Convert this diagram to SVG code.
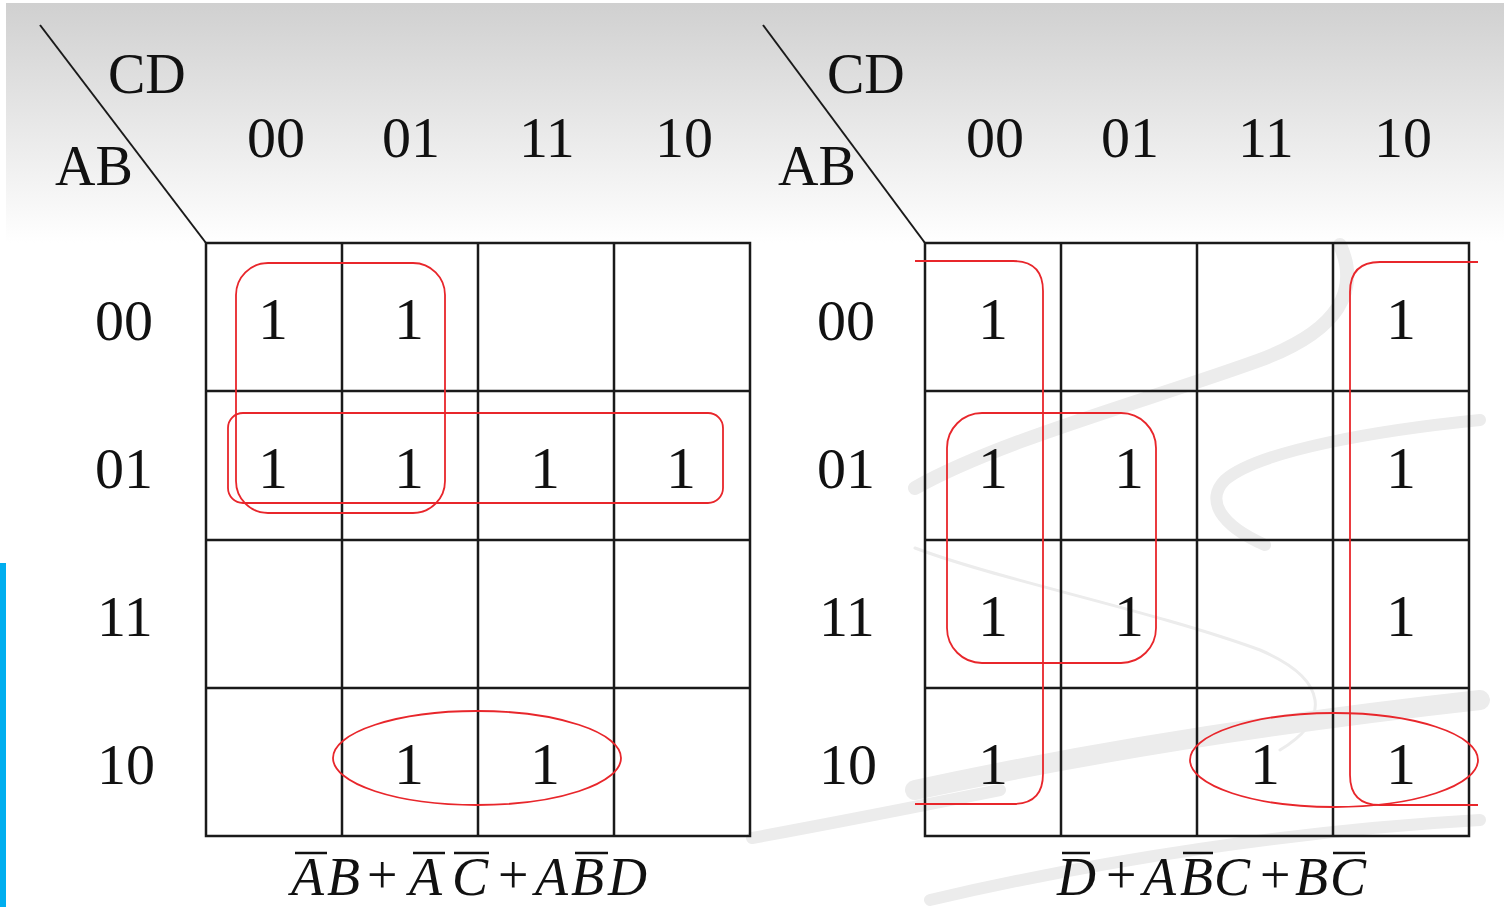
<svg xmlns="http://www.w3.org/2000/svg" width="1504" height="907" viewBox="0 0 1504 907">
<defs>
<linearGradient id="bg" x1="0" y1="0" x2="0" y2="1">
<stop offset="0" stop-color="#d0d0d0"/>
<stop offset="1" stop-color="#ffffff"/>
</linearGradient>
<style>
.t{font-family:"Liberation Serif","Times New Roman",serif;fill:#111;}
.lab{font-size:56px;}
.dig{font-size:58px;}
.one{font-size:60px;text-anchor:middle;}
.f{font-family:"Liberation Serif","Times New Roman",serif;font-style:italic;font-size:54px;fill:#111;}
.fp{font-family:"Liberation Serif","Times New Roman",serif;font-size:54px;fill:#111;}
.grid{fill:none;stroke:#1a1a1a;stroke-width:2.5;}
.diag{stroke:#1a1a1a;stroke-width:2;}
.loop{fill:none;stroke:#e8262b;stroke-width:1.8;}
.ov{stroke:#111;stroke-width:2.5;}
.sw{fill:none;stroke:#ececec;stroke-linecap:round;}
</style>
</defs>
<rect width="1504" height="907" fill="#ffffff"/>
<rect x="6" y="3" width="1498" height="240" fill="url(#bg)"/>
<rect x="0" y="563" width="6" height="344" fill="#00aeef"/>

<g id="swoosh">
<path class="sw" stroke-width="14" d="M915,488 C1000,440 1150,400 1260,360 C1340,330 1360,290 1340,245"/>
<path class="sw" stroke-width="12" d="M1480,420 C1380,430 1260,450 1225,480 C1205,500 1220,525 1265,545"/>
<path class="sw" stroke-width="3" d="M915,548 C1000,580 1150,610 1260,650 C1330,680 1330,720 1280,750"/>
<path class="sw" stroke-width="20" d="M915,790 C1100,750 1300,720 1480,700"/>
<path class="sw" stroke-width="12" d="M930,900 C1100,860 1300,830 1480,820"/>
<path class="sw" stroke-width="12" d="M752,838 C850,820 950,800 1000,790"/>
</g>

<g id="connectors">
<line class="diag" x1="40" y1="25" x2="206" y2="243"/>
<line class="diag" x1="763" y1="25" x2="925" y2="243"/>
</g>

<g id="kmap-left">
<rect class="grid" x="206" y="243" width="544" height="593"/>
<path class="grid" d="M342,243V836M478,243V836M614,243V836M206,391H750M206,540H750M206,688H750"/>
<text class="t lab" x="108" y="93">CD</text>
<text class="t lab" x="55" y="185">AB</text>
<g class="t dig">
<text x="247" y="157">00</text><text x="382" y="157">01</text><text x="519" y="157">11</text><text x="655" y="157">10</text>
<text x="95" y="340">00</text><text x="95" y="488">01</text><text x="97" y="636">11</text><text x="97" y="784">10</text>
</g>
<g class="t one">
<text x="273" y="339">1</text><text x="409" y="339">1</text>
<text x="273" y="488">1</text><text x="409" y="488">1</text><text x="545" y="488">1</text><text x="681" y="488">1</text>
<text x="409" y="784">1</text><text x="545" y="784">1</text>
</g>
<rect class="loop" x="236" y="263" width="209" height="250" rx="32"/>
<rect class="loop" x="228" y="413" width="495" height="90" rx="15"/>
<ellipse class="loop" cx="477" cy="758" rx="144" ry="47"/>
</g>

<g id="kmap-right">
<rect class="grid" x="925" y="243" width="544" height="593"/>
<path class="grid" d="M1061,243V836M1197,243V836M1333,243V836M925,391H1469M925,540H1469M925,688H1469"/>
<text class="t lab" x="827" y="93">CD</text>
<text class="t lab" x="778" y="185">AB</text>
<g class="t dig">
<text x="966" y="157">00</text><text x="1101" y="157">01</text><text x="1238" y="157">11</text><text x="1374" y="157">10</text>
<text x="817" y="340">00</text><text x="817" y="488">01</text><text x="819" y="636">11</text><text x="819" y="784">10</text>
</g>
<g class="t one">
<text x="993" y="339">1</text><text x="1401" y="339">1</text>
<text x="993" y="488">1</text><text x="1129" y="488">1</text><text x="1401" y="488">1</text>
<text x="993" y="636">1</text><text x="1129" y="636">1</text><text x="1401" y="636">1</text>
<text x="993" y="784">1</text><text x="1265" y="784">1</text><text x="1401" y="784">1</text>
</g>
<path class="loop" d="M915,261H1013Q1043,261 1043,291V774Q1043,804 1013,804H915"/>
<path class="loop" d="M1478,262H1380Q1350,262 1350,292V775Q1350,805 1380,805H1478"/>
<rect class="loop" x="947" y="413" width="209" height="250" rx="35"/>
<ellipse class="loop" cx="1334" cy="760" rx="144" ry="47"/>
</g>

<g id="formula-left">
<text class="f" y="895"><tspan x="291">A</tspan><tspan x="327">B</tspan><tspan x="409">A</tspan><tspan x="452">C</tspan><tspan x="535">A</tspan><tspan x="571">B</tspan><tspan x="608">D</tspan></text>
<text class="fp" y="893"><tspan x="367">+</tspan><tspan x="498">+</tspan></text>
<line class="ov" x1="295" y1="853" x2="327" y2="853"/>
<line class="ov" x1="413" y1="853" x2="445" y2="853"/>
<line class="ov" x1="454" y1="853" x2="489" y2="853"/>
<line class="ov" x1="575" y1="853" x2="608" y2="853"/>
</g>

<g id="formula-right">
<text class="f" y="895"><tspan x="1057">D</tspan><tspan x="1143">A</tspan><tspan x="1180">B</tspan><tspan x="1214">C</tspan><tspan x="1295">B</tspan><tspan x="1330">C</tspan></text>
<text class="fp" y="893"><tspan x="1106">+</tspan><tspan x="1260">+</tspan></text>
<line class="ov" x1="1062" y1="853" x2="1090" y2="853"/>
<line class="ov" x1="1183" y1="853" x2="1213" y2="853"/>
<line class="ov" x1="1333" y1="853" x2="1365" y2="853"/>
</g>
</svg>
